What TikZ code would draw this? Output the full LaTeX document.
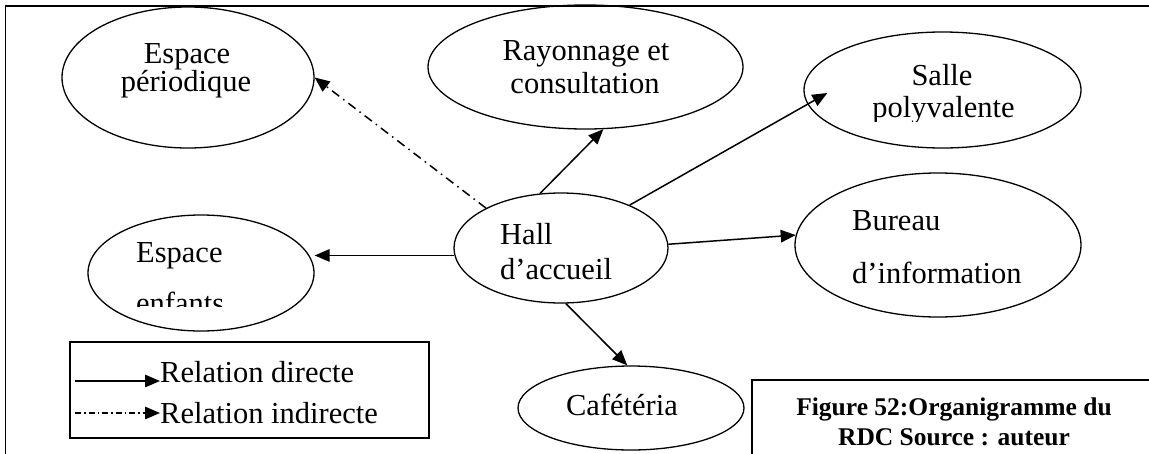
\documentclass[tikz,border=0pt]{standalone}
\usepackage{fontspec}
\setmainfont{Liberation Serif}
\usetikzlibrary{arrows.meta,shapes.geometric}
\begin{document}
\begin{tikzpicture}[x=1pt,y=-1pt,
  ell/.style={draw, ellipse, line width=1.3pt, inner sep=0pt},
  lbl/.style={inner sep=0pt, font=\fontsize{30.5}{36}\selectfont},
  lblw/.style={lbl, anchor=base west},
  lblc/.style={lbl, anchor=base},
  capt/.style={inner sep=0pt, anchor=base, font=\fontsize{25.5}{30}\selectfont\bfseries},
  arr/.style={line width=1.5pt, -{Triangle[length=15pt,width=12.5pt]}},
  dd/.style={arr, dash pattern=on 9pt off 5pt on 1.5pt off 5pt},
  ddleg/.style={arr, dash pattern=on 6pt off 3pt on 1.5pt off 3pt},
  frame/.style={line width=1.9pt},
]
\useasboundingbox (0,0) rectangle (1149,453);
\fill[white] (0,0) rectangle (1149,453);

% outer frame
\draw[frame] (1152,6) -- (5.5,6) -- (5.5,460);

% ellipses
\node[ell, minimum width=252pt, minimum height=141pt] (per) at (188,77.5) {};
\node[ell, minimum width=315pt, minimum height=124pt] (ray) at (585.5,67) {};
\node[ell, minimum width=277pt, minimum height=116pt] (salle) at (942.5,90) {};
\node[ell, minimum width=214pt, minimum height=110pt] (hall) at (561,248) {};
\node[ell, minimum width=286pt, minimum height=144pt] (bur) at (938,245) {};
\node[ell, minimum width=226pt, minimum height=116pt] (enf) at (201,273) {};
\node[ell, minimum width=226pt, minimum height=84pt] (caf) at (631,408) {};

% labels
\node[lblc] (perA) at (187,63) {Espace};
\node[lblc] (perB) at (186,91) {périodique};
\node[lblc] (rayA) at (586,60) {Rayonnage et};
\node[lblc] (rayB) at (585,93) {consultation};
\node[lblc] (salA) at (942,85) {Salle};
\begin{scope}
  \clip (850,60) rectangle (1040,121);
  \node[lblc] (salB) at (943.5,117) {polyvalente};
\end{scope}
\node[lblw] (halA) at (500,244) {Hall};
\node[lblw] (halB) at (500,279) {d’accueil};
\node[lblw] (burA) at (852,230) {Bureau};
\node[lblw] (burB) at (852,283) {d’information};
\node[lblw] (enfA) at (136,262) {Espace};
\begin{scope}
  \clip (120,280) rectangle (300,306);
  \node[lblw] (enfB) at (136,313) {enfants};
\end{scope}
\node[lblc] (cafA) at (622,415) {Cafétéria};

% connectors
\draw[arr] (hall.111) -- (ray.-74);
\coordinate (salletip) at ([xshift=24pt,yshift=-3pt]salle.west);
\draw[arr] (hall.32) -- (salletip);
\draw[arr] (hall.2) -- (bur.176);
\draw[arr] (hall.-85) -- (caf.95);
\draw[arr] (hall.184) -- (hall.184 -| enf.east);
\draw[dd] (hall.152) -- (per.east);

% legend
\node[draw, frame, minimum width=359pt, minimum height=96pt, inner sep=0pt] (leg) at (249.5,390) {};
\coordinate (l1a) at (75,381);
\coordinate (l1b) at (160,381);
\coordinate (l2a) at (75,413);
\coordinate (l2b) at (160,413);
\draw[arr] (l1a) -- (l1b);
\draw[ddleg] (l2a) -- (l2b);
\node[lblw] (legA) at (160,382) {Relation directe};
\node[lblw] (legB) at (160,423) {Relation indirecte};

% caption box
\draw[frame] (752,460) -- (752,380) -- (1152,380);
\node[capt] (capA) at (954,415) {Figure 52:Organigramme du};
\node[capt] (capB) at (954,445) {RDC Source : auteur};
\end{tikzpicture}
\end{document}
